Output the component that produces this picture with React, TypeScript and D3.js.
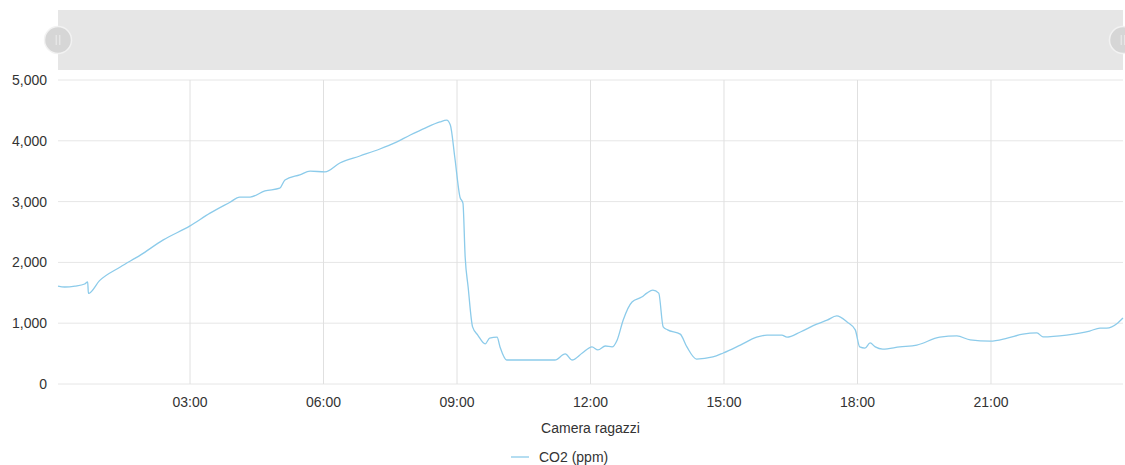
import React from "react";
import * as d3 from "d3";

const times = ["00:02","00:11","00:25","00:38","00:42","00:43","00:58","01:26","01:53","02:24","03:00","03:27","03:54","04:07","04:21","04:41","05:01","05:08","05:28","05:42","06:02","06:22","06:49","07:16","07:36","07:57","08:17","08:37","08:46","08:51","08:57","09:04","09:08","09:11","09:15","09:21","09:28","09:38","09:44","09:54","09:58","10:07","11:12","11:26","11:35","11:49","12:02","12:10","12:20","12:29","12:36","12:44","12:56","13:09","13:16","13:24","13:32","13:38","13:44","14:01","14:10","14:23","14:45","14:59","15:22","15:44","15:58","16:18","16:25","16:43","17:05","17:19","17:32","17:46","17:57","18:03","18:10","18:17","18:24","18:34","18:57","19:20","19:51","20:14","20:32","20:59","21:22","21:43","22:02","22:10","22:42","23:13","23:27","23:36","23:51","23:58"];
const co2 = [1610,1595,1610,1645,1680,1490,1700,1925,2120,2370,2600,2810,2990,3075,3075,3175,3220,3355,3440,3500,3490,3635,3750,3865,3965,4095,4210,4310,4340,4260,3730,3075,2975,2090,1595,940,805,660,755,770,610,395,395,495,395,510,610,560,625,610,725,1050,1350,1430,1495,1545,1495,940,890,820,610,410,445,510,640,770,805,805,770,855,985,1050,1120,1020,890,610,590,675,610,575,610,640,770,790,725,705,755,820,840,775,805,870,920,920,1005,1085];
const yTicks = [0, 1000, 2000, 3000, 4000, 5000];
const title = "Camera ragazzi";
const seriesName = "CO2 (ppm)";

const parse = (s: string) => {
  const [h, m] = s.split(":").map(Number);
  return new Date(2020, 0, 1, h, m);
};

export default function App() {
  const W = 1125, H = 465;
  const left = 58, right = 1123, top = 80, bottom = 384;
  const data = times.map((t, i) => ({ t: parse(t), v: co2[i] }));
  const x = d3.scaleTime().domain([data[0].t, data[data.length - 1].t]).range([left, right]);
  const y = d3.scaleLinear().domain([0, 5000]).range([bottom, top]);
  const xTicks = x.ticks(d3.timeHour.every(3) as any).filter((d) => d.getHours() !== 0);
  const fmt = d3.timeFormat("%H:%M");
  const line = d3
    .line<{ t: Date; v: number }>()
    .x((d) => x(d.t))
    .y((d) => y(d.v))
    .curve(d3.curveMonotoneX);
  const font = "Arial, 'Liberation Sans', sans-serif";
  const handle = (cx: number) => (
    <g>
      <circle cx={cx} cy={40} r={13.5} fill="#d6d6d6" stroke="#f2f2f2" strokeWidth={1.5} />
      <line x1={cx - 1.8} x2={cx - 1.8} y1={35} y2={45} stroke="#eeeeee" strokeWidth={1} />
      <line x1={cx + 1.8} x2={cx + 1.8} y1={35} y2={45} stroke="#eeeeee" strokeWidth={1} />
    </g>
  );
  return (
    <svg width={W} height={H} style={{ position: "absolute", left: 0, top: 0 }} fontFamily={font}>
      <rect x={0} y={0} width={W} height={H} fill="#ffffff" />
      <rect x={left} y={10} width={right - left} height={60} fill="#e6e6e6" />
      {handle(left)}
      {handle(right)}
      {yTicks.map((t) => (
        <g key={t}>
          <line x1={left} x2={right} y1={y(t)} y2={y(t)} stroke="#e6e6e6" strokeWidth={1} />
          <text x={47} y={y(t)} dy="0.35em" textAnchor="end" fontSize={14} fill="#333">
            {d3.format(",")(t)}
          </text>
        </g>
      ))}
      {xTicks.map((t) => (
        <g key={+t}>
          <line x1={x(t)} x2={x(t)} y1={top} y2={bottom} stroke="#e0e0e0" strokeWidth={1} />
          <text x={x(t)} y={407} textAnchor="middle" fontSize={14} fill="#333">
            {fmt(t)}
          </text>
        </g>
      ))}
      <path d={line(data) || ""} fill="none" stroke="#8ccbea" strokeWidth={1.3} />
      <text x={(left + right) / 2} y={433} textAnchor="middle" fontSize={14} fill="#333">
        {title}
      </text>
      <line x1={511} x2={529} y1={457} y2={457} stroke="#8ccbea" strokeWidth={1.3} />
      <text x={539} y={462} fontSize={14} fill="#333">
        {seriesName}
      </text>
    </svg>
  );
}
